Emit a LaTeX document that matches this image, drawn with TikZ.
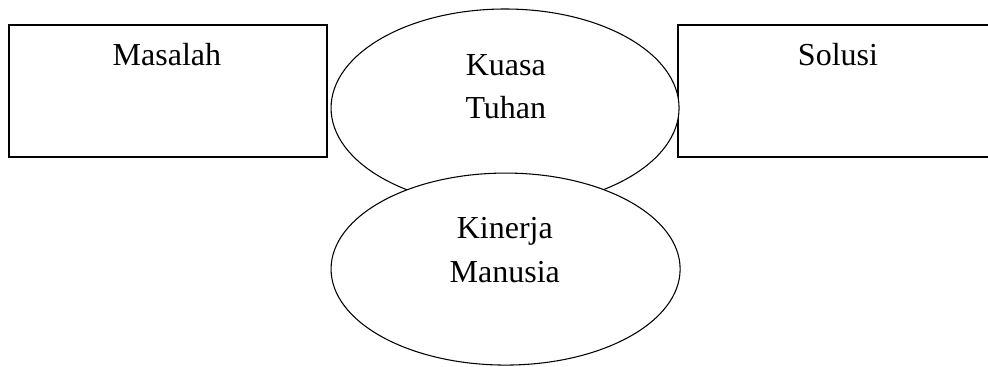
\documentclass[tikz,border=0pt]{standalone}
\usepackage{fontspec}
\setmainfont{Liberation Serif}
\usetikzlibrary{shapes.geometric}
\tikzstyle{kotak}=[draw, line width=0.75pt, minimum width=119.4pt, minimum height=49.3pt, inner sep=0pt]
\tikzstyle{oval}=[ellipse, draw, fill=white, line width=0.4pt, minimum width=130.5pt, minimum height=74.25pt, inner sep=0pt]
\tikzstyle{teks}=[align=center, font=\fontsize{12}{16.3}\selectfont, inner sep=0pt]

\begin{document}
\begin{tikzpicture}[x=1pt,y=1pt]
   \useasboundingbox (0,0) rectangle (370.5,137.25);

   \node[kotak] (masalah) at (62.9,103.2) {};
   \node[kotak] (solusi) at (314.1,103.2) {};

   % upper oval first, the lower one is filled over it
   \node[oval] (tuhan) at (189.4,96.75) {};
   \node[oval, minimum width=130.9pt, minimum height=72pt] (manusia) at (189.6,36.35) {};

   \node[teks, anchor=base] (tmasalah) at (62.6,112.85) {Masalah};
   \node[teks, anchor=base] (tsolusi) at (314.25,112.85) {Solusi};
   \node[teks, anchor=north] (ttuhan) at (189.7,117.05) {Kuasa\\Tuhan};
   \node[teks, anchor=north] (tmanusia) at (189.3,55.9) {Kinerja\\Manusia};
\end{tikzpicture}
\end{document}
